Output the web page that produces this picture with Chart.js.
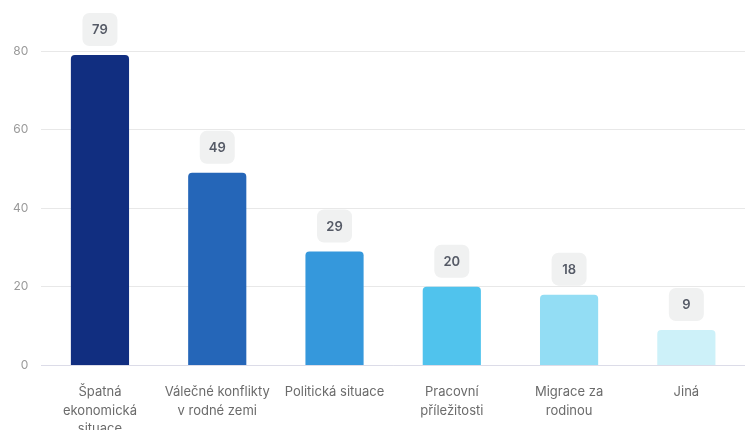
<!DOCTYPE html>
<html>
<head>
<meta charset="utf-8">
<script src="https://cdn.jsdelivr.net/npm/chart.js@4"></script>
<style>
  html, body { margin: 0; padding: 0; background: #fff; }
  #wrap { width: 745px; height: 430px; }
</style>
</head>
<body>
<div id="wrap"><canvas id="reasonsChart" width="745" height="430"></canvas></div>
<script>
// Důvody migrace - sloupcový graf

const categories = [
  ['Špatná', 'ekonomická', 'situace'],
  ['Válečné konflikty', 'v rodné zemi'],
  'Politická situace',
  ['Pracovní', 'příležitosti'],
  ['Migrace za', 'rodinou'],
  'Jiná'
];
const values = [79, 49, 29, 20, 18, 9];
const barColors = ['#112e80', '#2566b8', '#3598dc', '#50c3ed', '#93ddf4', '#cdf1f9'];
const yTicks = [0, 20, 40, 60, 80];

// popisky hodnot v šedém rámečku nad sloupci
const valueBoxes = {
  id: 'valueBoxes',
  afterDatasetsDraw(chart) {
    const ctx = chart.ctx;
    const meta = chart.getDatasetMeta(0);
    ctx.save();
    ctx.font = '600 13px Inter, "Noto Sans", sans-serif';
    ctx.textAlign = 'center';
    ctx.textBaseline = 'middle';
    meta.data.forEach((bar, i) => {
      const w = 35, h = 33;
      const x = bar.x - w / 2;
      const y = bar.y - 9 - h;
      ctx.fillStyle = '#f0f1f1';
      ctx.beginPath();
      ctx.roundRect(x, y, w, h, 7);
      ctx.fill();
      ctx.fillStyle = '#555a66';
      ctx.fillText(String(values[i]), bar.x, y + h / 2 + 1);
    });
    ctx.restore();
  }
};

document.addEventListener('DOMContentLoaded', () => {
  const ctx = document.getElementById('reasonsChart');
  if (!ctx) return;

  new Chart(ctx, {
    type: 'bar',
    data: {
      labels: categories,
      datasets: [{
        data: values,
        backgroundColor: barColors,
        borderRadius: { topLeft: 4, topRight: 4 },
        borderSkipped: 'bottom',
        barPercentage: 0.62,
        categoryPercentage: 0.8
      }]
    },
    options: {
      responsive: false,
      animation: false,
      layout: { padding: { top: 51, right: 0, left: 0, bottom: -18 } },
      plugins: {
        legend: { display: false },
        tooltip: { enabled: false }
      },
      scales: {
        x: {
          grid: { display: false },
          border: { color: '#dcdce8' },
          ticks: {
            color: '#6b6b6b',
            font: { family: 'Inter, "Noto Sans", sans-serif', size: 13, lineHeight: 1.4 },
            padding: 10,
            maxRotation: 0,
            autoSkip: false
          }
        },
        y: {
          min: 0,
          max: 80,
          afterBuildTicks: (axis) => { axis.ticks = yTicks.map(v => ({ value: v })); },
          grid: { color: '#e8e8e8', drawTicks: false },
          border: { display: false },
          ticks: {
            color: '#9a9a9a',
            font: { family: 'Inter, "Noto Sans", sans-serif', size: 12 },
            padding: 13
          }
        }
      }
    },
    plugins: [valueBoxes]
  });
});
</script>
</body>
</html>
